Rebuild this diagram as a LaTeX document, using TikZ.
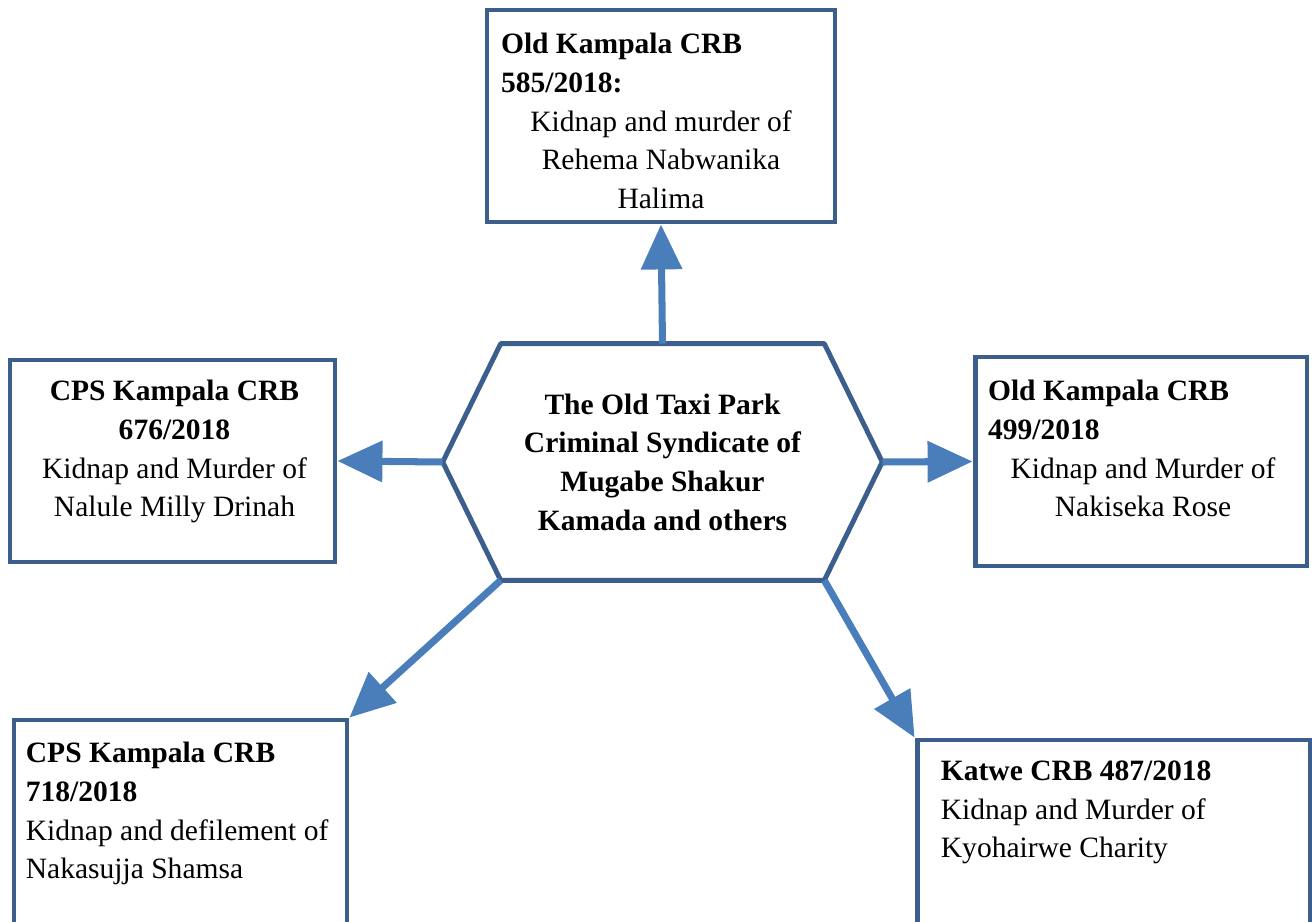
\documentclass[tikz,border=0pt]{standalone}
\usepackage{fontspec}
\setmainfont{Liberation Serif}
\usepackage{tikz}
\usetikzlibrary{arrows.meta}
\definecolor{boxblue}{RGB}{59,94,140}
\definecolor{linkblue}{RGB}{74,126,187}
\newcommand{\lefthead}[1]{\makebox[\hsize][l]{\bfseries #1}}

\begin{document}
\begin{tikzpicture}[
    x=0.02cm, y=-0.02cm,
    box/.style={rectangle, draw=boxblue, line width=2.8pt, inner sep=0pt},
    txt/.style={inner sep=0pt, font=\fontsize{16.8}{22}\selectfont},
    link/.style={draw=linkblue, line width=4pt, -{Triangle[length=0.9cm, width=0.8cm]}}
]
    \clip (0,0) rectangle (1312,922);

    % Boxes
    \node[box, minimum width=6.96cm, minimum height=4.24cm] (crb585) at (661,116) {};
    \node[box, minimum width=6.5cm, minimum height=4.04cm] (crb676) at (172.5,461) {};
    \node[box, minimum width=6.64cm, minimum height=4.18cm] (crb499) at (1141,461.5) {};
    \node[box, minimum width=6.66cm, minimum height=4.4cm] (crb718) at (180.5,830) {};
    \node[box, minimum width=7.86cm, minimum height=4cm] (crb487) at (1113.5,840) {};

    % Syndicate in the middle
    \node[txt, minimum width=8.78cm, minimum height=4.72cm, align=flush center, font=\fontsize{16.8}{22}\selectfont\bfseries] (hub) at (662.5,462)
        {The Old Taxi Park\\Criminal Syndicate of\\Mugabe Shakur\\Kamada and others};
    \draw[boxblue, line width=2.8pt, line join=round]
        (hub.west) -- ([xshift=1.16cm]hub.north west) -- ([xshift=-1.16cm]hub.north east)
        -- (hub.east) -- ([xshift=-1.16cm]hub.south east) -- ([xshift=1.16cm]hub.south west) -- cycle;

    % Texts
    \node[txt, anchor=north, text width=6.4cm, align=flush center] (t585) at ([yshift=-0.51cm]crb585.north)
        {\lefthead{Old Kampala CRB}\\\lefthead{585/2018:}\\Kidnap and murder of\\Rehema Nabwanika\\Halima};
    \node[txt, anchor=north, align=center] (t676) at ([xshift=0.04cm, yshift=-0.45cm]crb676.north)
        {\textbf{CPS Kampala CRB}\\\textbf{676/2018}\\Kidnap and Murder of\\Nalule Milly Drinah};
    \node[txt, anchor=north, text width=6.2cm, align=flush center] (t499) at ([xshift=0.04cm, yshift=-0.51cm]crb499.north)
        {\lefthead{Old Kampala CRB}\\\lefthead{499/2018}\\Kidnap and Murder of\\Nakiseka Rose};
    \node[txt, anchor=north west, align=left] (t718) at ([xshift=0.28cm, yshift=-0.49cm]crb718.north west)
        {\textbf{CPS Kampala CRB}\\\textbf{718/2018}\\Kidnap and defilement of\\Nakasujja Shamsa};
    \node[txt, anchor=north west, align=left] (t487) at ([xshift=0.52cm, yshift=-0.46cm]crb487.north west)
        {\textbf{Katwe CRB 487/2018}\\Kidnap and Murder of\\Kyohairwe Charity};

    % Arrows
    \draw[link] (hub.north) -- (crb585.south);
    \draw[link] (hub.west) -- (crb676.east);
    \draw[link] (hub.east) -- (crb499.west);
    \draw[link] ([xshift=1.16cm]hub.south west) -- (crb718.north east);
    \draw[link] ([xshift=-1.16cm]hub.south east) -- (crb487.north west);
\end{tikzpicture}
\end{document}
